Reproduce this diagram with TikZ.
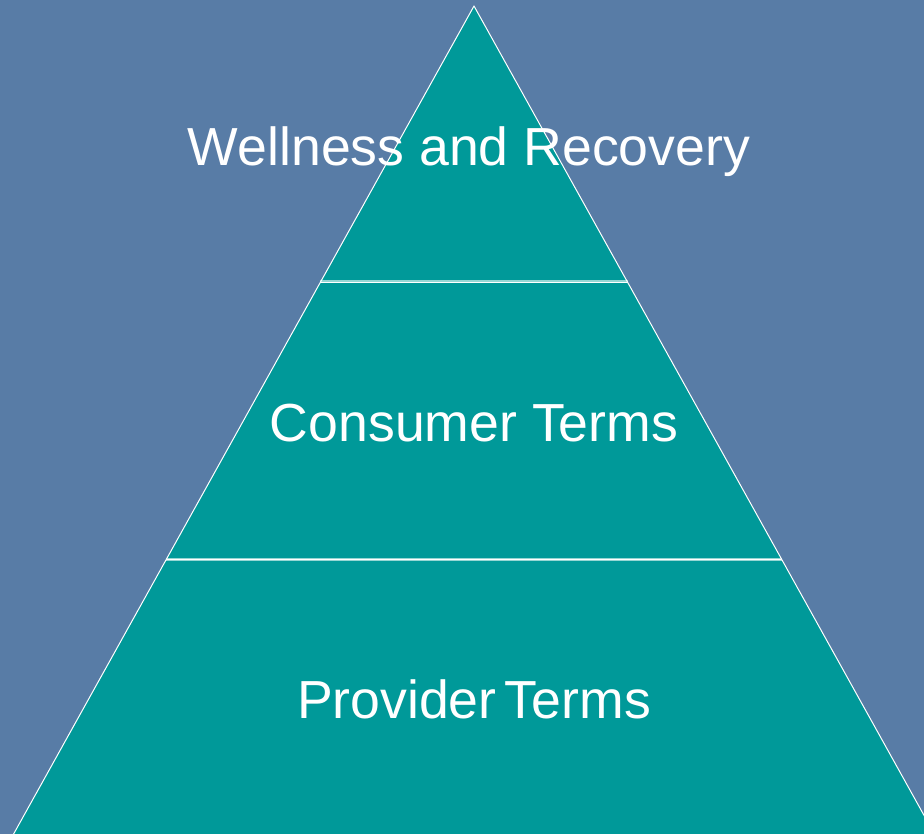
\documentclass[tikz,border=0pt]{standalone}
\usepackage{fontspec}
\setmainfont{Liberation Sans}
\definecolor{slate}{RGB}{88,124,166}
\definecolor{tealfill}{RGB}{0,153,153}
\definecolor{divider}{RGB}{150,214,212}
\begin{document}
\begin{tikzpicture}[x=1pt,y=-1pt,
  tier/.style={font=\fontsize{53.6}{60}\selectfont, text=white, anchor=base},
  rule/.style={line width=3pt, draw=divider}]
  % page and backdrop
  \fill[slate] (0,0) rectangle (924,834);
  \useasboundingbox (0,0) rectangle (924,834);
  % pyramid corners
  \coordinate (apex) at (474,6);
  \coordinate (bl) at (13.6,834);
  \coordinate (br) at (934.4,834);
  \coordinate (l1) at (320.3,282);
  \coordinate (r1) at (627.7,282);
  \coordinate (l2) at (166.3,559);
  \coordinate (r2) at (781.7,559);
  \begin{scope}
    \clip (0,0) rectangle (924,834);
    \fill[tealfill] (apex) -- (bl) -- (br) -- cycle;
    \draw[rule] (l1) -- (r1);
    \draw[rule] (l2) -- (r2);
    \draw[white, line width=0.9pt] (l1) -- (r1);
    \draw[white, line width=0.9pt] (l2) -- (r2);
    \draw[white, line width=1pt, line join=round] (bl) -- (apex) -- (br);
  \end{scope}
  % tier labels
  \node[tier] (top) at (469,166) {Wellness and Recovery};
  \node[tier] (mid) at (474,441) {Consumer Terms};
  \node[tier] (low) at (474,718) {Provider\hspace{-0.12em} Terms};
\end{tikzpicture}
\end{document}
